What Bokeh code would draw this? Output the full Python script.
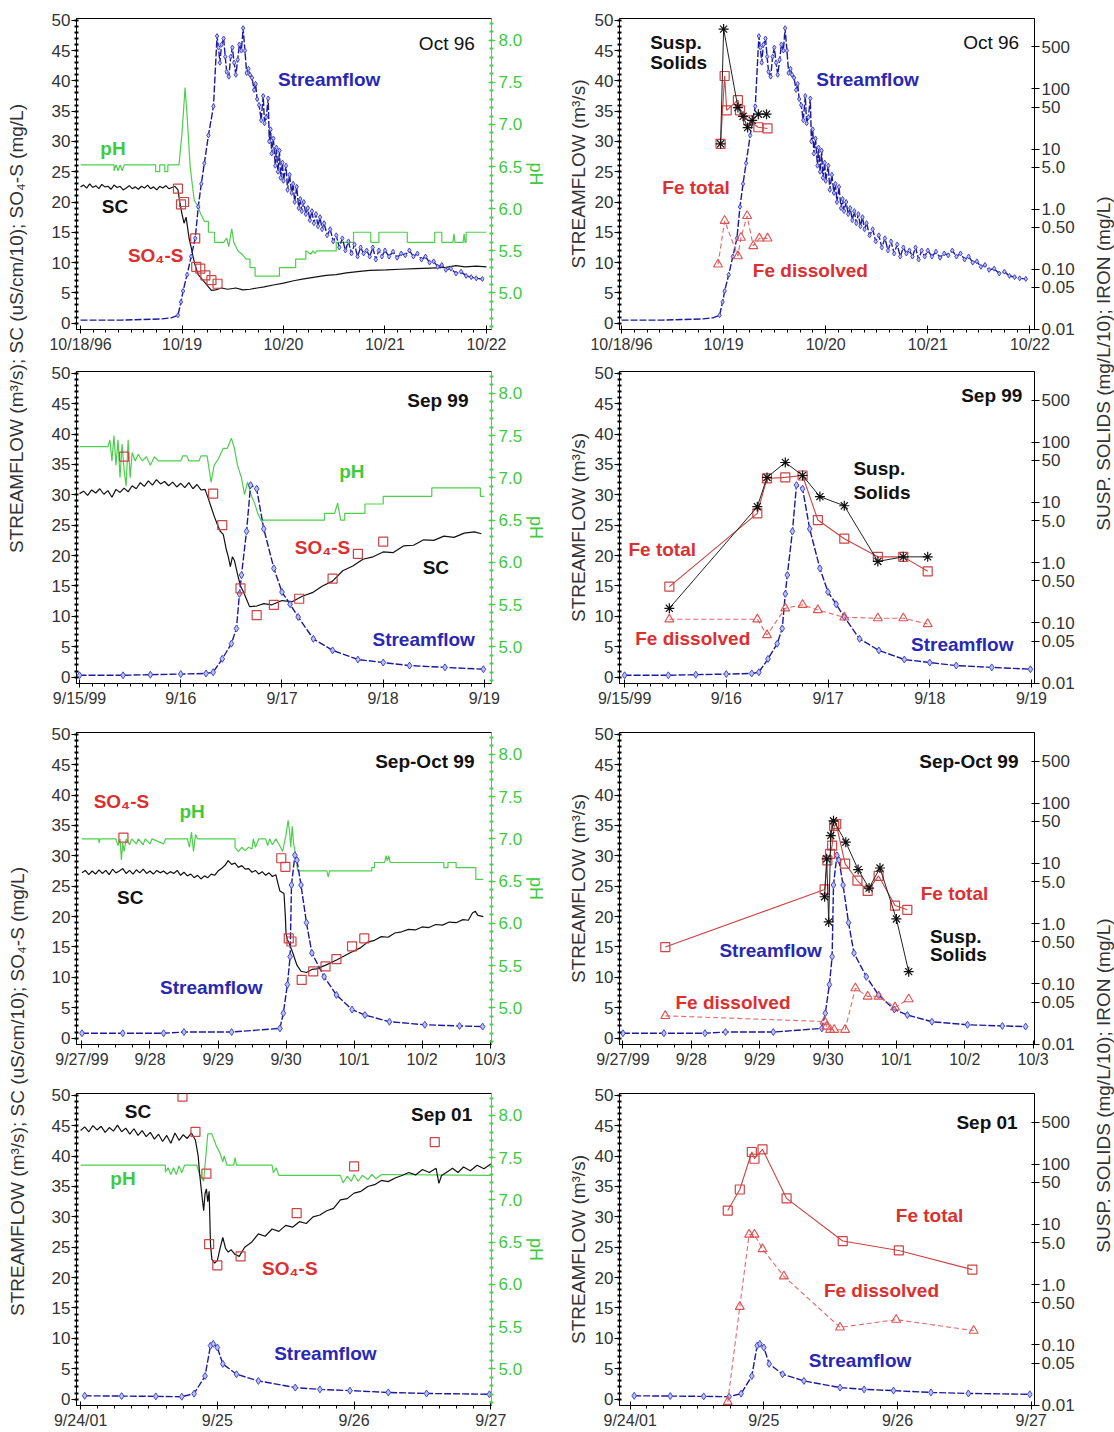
import numpy as np
from bokeh.plotting import figure
from bokeh.models import Range1d, LinearAxis, LogAxis, LogScale, FixedTicker, NumeralTickFormatter
from bokeh.layouts import row, column
from bokeh.core.properties import value
from bokeh.embed import file_html
from bokeh.resources import INLINE

# ---------------- tick labels ----------------
OCT96_DAYS = ["10/18/96", "10/19", "10/20", "10/21", "10/22"]
SEP99_DAYS = ["9/15/99", "9/16", "9/17", "9/18", "9/19"]
SEPOCT99_DAYS = ["9/27/99", "9/28", "9/29", "9/30", "10/1", "10/2", "10/3"]
SEP01_DAYS = ["9/24/01", "9/25", "9/26", "9/27"]
LOG_TICKS = [0.01, 0.05, 0.1, 0.5, 1, 5, 10, 50, 100, 500]
LOG_LABELS = ["0.01", "0.05", "0.10", "0.50", "1.0", "5.0", "10", "50", "100", "500"]
PH_TICKS = [5.0, 5.5, 6.0, 6.5, 7.0, 7.5, 8.0]

# ---------------- Oct 96 (days since 10/18/96) ----------------
OCT96_FLOW = [(0.00,0.5),(0.20,0.5),(0.40,0.5),(0.60,0.6),(0.80,0.7),(0.90,0.9),(0.96,1.3),(0.99,3.5),(1.01,5.3),
 (1.05,8.0),(1.09,11.0),(1.13,14.0),(1.16,19.2),(1.19,23.0),(1.22,26.4),(1.26,31.0),(1.31,35.8),(1.345,47.4),
 (1.36,45.5),(1.373,43.0),(1.39,46.0),(1.41,47.0),(1.426,44.0),(1.44,41.5),(1.461,40.7),(1.48,44.0),(1.496,45.5),
 (1.514,43.0),(1.53,41.0),(1.549,43.5),(1.565,46.0),(1.585,45.0),(1.602,48.7),(1.62,45.0),(1.637,41.3),(1.655,42.0),
 (1.67,41.0),(1.69,40.5),(1.71,38.5),(1.725,39.5),(1.74,37.0),(1.76,36.0),(1.78,33.5),(1.80,37.5),(1.813,33.0),
 (1.83,34.0),(1.849,37.1),(1.86,30.0),(1.873,32.0),(1.884,28.0),(1.90,30.5),(1.919,26.0),(1.93,29.0),(1.945,25.0),
 (1.96,28.5),(1.972,24.0),(1.99,26.5),(2.00,23.5),(2.025,26.0),(2.04,22.0),(2.06,24.5),(2.08,21.5),(2.095,23.0),
 (2.11,20.0),(2.13,22.5),(2.15,19.0),(2.165,20.5),(2.18,18.5),(2.20,20.0),(2.22,18.0),(2.24,19.0),(2.26,17.0),
 (2.28,18.5),(2.30,16.5),(2.32,18.0),(2.34,16.0),(2.36,17.5),(2.38,15.5),(2.40,16.5),(2.43,14.5),(2.46,15.5),
 (2.49,13.5),(2.52,14.5),(2.55,12.5),(2.58,14.0),(2.61,12.0),(2.64,13.5),(2.67,11.5),(2.70,13.0),(2.73,11.0),
 (2.76,12.5),(2.79,11.5),(2.82,12.0),(2.85,11.0),(2.88,12.5),(2.91,10.5),(2.94,12.0),(2.97,11.0),(3.00,12.0),
 (3.04,11.0),(3.08,11.8),(3.12,10.8),(3.16,11.5),(3.20,11.2),(3.24,12.0),(3.28,11.0),(3.32,11.5),(3.36,10.5),
 (3.40,11.0),(3.44,10.0),(3.48,10.2),(3.52,9.3),(3.56,9.6),(3.60,8.8),(3.65,9.0),(3.70,8.2),(3.75,8.5),(3.80,7.8),
 (3.85,7.6),(3.90,7.4),(3.96,7.3)]
OCT96_SC = [(0.00,22.5),(0.03,22.8),(0.06,22.3),(0.09,23.0),(0.12,22.4),(0.15,22.7),(0.18,22.2),(0.21,22.9),(0.24,22.5),
 (0.27,22.6),(0.30,22.1),(0.33,22.8),(0.36,22.4),(0.39,22.6),(0.42,22.0),(0.45,22.3),(0.48,22.7),(0.51,22.2),
 (0.54,22.5),(0.57,22.1),(0.60,22.6),(0.63,22.3),(0.66,22.8),(0.69,22.2),(0.72,22.5),(0.75,22.0),(0.78,22.6),
 (0.81,22.3),(0.84,22.7),(0.87,22.2),(0.90,22.4),(0.93,22.6),(0.96,22.0),(0.98,19.8),(1.00,18.0),(1.02,16.5),
 (1.04,17.5),(1.07,14.0),(1.09,12.5),(1.11,10.9),(1.13,9.5),(1.16,8.0),(1.18,7.6),(1.22,6.8),(1.26,6.0),(1.29,5.4),
 (1.33,5.5),(1.39,5.8),(1.45,5.6),(1.53,5.8),(1.60,5.5),(1.67,5.6),(1.74,5.8),(1.81,6.0),(1.90,6.3),(2.00,6.6),
 (2.10,7.0),(2.20,7.3),(2.31,7.6),(2.42,7.9),(2.52,8.0),(2.62,8.3),(2.73,8.5),(2.85,8.7),(3.01,8.8),(3.15,8.9),
 (3.30,9.0),(3.45,9.1),(3.60,9.2),(3.70,9.5),(3.79,9.3),(3.90,9.4),(4.00,9.3)]
OCT96_PH = [(0.00,6.52),(0.33,6.52),(0.33,6.45),(0.35,6.52),(0.37,6.45),(0.39,6.52),(0.41,6.45),(0.43,6.52),
 (0.74,6.52),(0.74,6.44),(0.78,6.44),(0.78,6.52),(0.83,6.52),(0.83,6.44),(0.86,6.44),(0.86,6.52),(0.97,6.52),
 (1.00,6.90),(1.03,7.44),(1.05,7.10),(1.08,6.50),(1.12,6.10),(1.16,6.02),(1.18,5.95),(1.22,5.85),(1.26,5.85),
 (1.26,5.72),(1.32,5.72),(1.32,5.60),(1.41,5.60),(1.44,5.65),(1.46,5.55),(1.49,5.76),(1.51,5.60),(1.55,5.50),
 (1.60,5.45),(1.63,5.40),(1.67,5.40),(1.67,5.30),(1.72,5.30),(1.72,5.20),(1.96,5.20),(1.96,5.30),(2.12,5.30),
 (2.12,5.40),(2.22,5.40),(2.22,5.50),(2.27,5.46),(2.29,5.50),(2.31,5.47),(2.33,5.50),(2.52,5.50),(2.52,5.60),
 (2.69,5.60),(2.69,5.72),(2.86,5.72),(2.86,5.60),(2.94,5.60),(2.94,5.72),(3.22,5.72),(3.22,5.60),(3.49,5.60),
 (3.49,5.72),(3.56,5.72),(3.56,5.60),(3.67,5.60),(3.68,5.70),(3.69,5.60),(3.77,5.60),(3.78,5.70),(3.79,5.60),
 (3.80,5.60),(3.80,5.72),(4.00,5.72)]
OCT96_SO4 = [(0.96,22.2),(0.99,19.6),(1.02,20.0),(1.13,14.0),(1.14,9.3),(1.18,9.0),(1.23,7.9),(1.29,7.1),(1.35,6.5)]
OCT96_SUSP = [(0.97,12.2),(1.00,990),(1.14,49),(1.19,35),(1.235,22.7),(1.28,30),(1.34,38),(1.42,38)]
OCT96_FE_TOTAL = [(0.97,12.2),(1.01,164),(1.03,44),(1.14,65),(1.16,44),(1.24,30),(1.34,23),(1.43,22)]
OCT96_FE_DISS = [(0.945,0.12),(1.01,0.64),(1.14,0.165),(1.17,0.335),(1.23,0.77),(1.29,0.243),(1.35,0.326),(1.43,0.326)]

# ---------------- Sep 99 (days since 9/15/99) ----------------
SEP99_FLOW = [(0.00,0.3),(0.43,0.3),(0.70,0.4),(1.00,0.5),(1.25,0.6),(1.32,0.8),(1.41,3.0),(1.50,5.5),(1.55,8.0),
 (1.58,13.7),(1.60,16.8),(1.65,24.0),(1.69,31.6),(1.75,31.0),(1.82,24.4),(1.92,17.9),(2.00,14.0),(2.08,12.0),
 (2.16,9.9),(2.31,6.3),(2.50,4.4),(2.75,2.9),(3.00,2.4),(3.26,1.9),(3.61,1.6),(3.99,1.3)]
SEP99_SC = [(0.00,30.2),(0.04,30.6),(0.08,29.9),(0.12,30.8),(0.16,30.3),(0.20,31.0),(0.24,30.1),(0.28,30.7),(0.32,29.6),
 (0.36,30.9),(0.40,30.4),(0.44,31.1),(0.48,30.5),(0.52,31.5),(0.56,31.0),(0.60,32.0),(0.64,31.4),(0.68,32.3),
 (0.72,31.6),(0.76,32.5),(0.80,31.8),(0.84,32.2),(0.88,31.5),(0.92,32.1),(0.96,31.3),(1.00,31.9),(1.04,31.2),
 (1.08,32.0),(1.12,31.0),(1.16,31.7),(1.20,30.8),(1.24,30.9),(1.27,29.5),(1.30,28.0),(1.33,26.5),(1.36,25.2),
 (1.39,24.0),(1.42,23.5),(1.45,21.0),(1.47,19.8),(1.49,18.2),(1.51,19.8),(1.53,19.2),(1.56,17.0),(1.59,15.0),
 (1.62,14.0),(1.65,12.8),(1.68,11.6),(1.75,11.7),(1.82,12.1),(1.90,11.9),(2.00,12.6),(2.10,12.4),(2.20,13.3),
 (2.30,13.9),(2.40,15.0),(2.50,15.8),(2.60,17.5),(2.70,18.3),(2.80,19.4),(2.90,19.8),(3.00,20.6),(3.10,20.5),
 (3.20,21.6),(3.30,21.7),(3.40,22.6),(3.50,22.5),(3.60,23.2),(3.70,23.0),(3.80,23.7),(3.90,23.9),(3.97,23.6)]
SEP99_PH = [(0.00,7.37),(0.28,7.37),(0.30,7.45),(0.32,7.20),(0.34,7.50),(0.36,7.15),(0.38,7.45),(0.40,7.00),
 (0.42,7.40),(0.44,7.10),(0.46,6.90),(0.48,7.45),(0.50,7.00),(0.52,7.30),(0.55,7.20),(0.58,7.28),(0.62,7.20),
 (0.66,7.25),(0.70,7.15),(0.74,7.25),(0.78,7.20),(1.00,7.20),(1.02,7.26),(1.06,7.26),(1.08,7.20),(1.18,7.20),
 (1.20,7.26),(1.26,7.26),(1.30,6.95),(1.33,7.15),(1.37,7.22),(1.42,7.35),(1.46,7.35),(1.50,7.47),(1.53,7.35),
 (1.56,7.15),(1.60,7.00),(1.63,6.80),(1.66,6.95),(1.70,6.78),(1.73,6.70),(1.76,6.58),(1.80,6.48),(1.82,6.50),
 (2.42,6.50),(2.42,6.58),(2.52,6.58),(2.55,6.70),(2.58,6.50),(2.62,6.50),(2.62,6.58),(2.82,6.58),(2.82,6.69),
 (3.00,6.69),(3.00,6.78),(3.48,6.78),(3.48,6.88),(3.96,6.88),(3.96,6.78),(4.00,6.78)]
SEP99_SO4 = [(0.44,36.3),(1.32,30.2),(1.41,25.0),(1.59,14.6),(1.75,10.2),(1.92,11.9),(2.17,12.9),(2.50,16.2),(2.75,20.3),(3.00,22.3)]
SEP99_SUSP = [(0.44,0.175),(1.305,8.5),(1.40,26),(1.58,46),(1.75,28),(1.92,12.5),(2.16,8.8),(2.49,1.05),(2.74,1.25),(2.98,1.25)]
SEP99_FE_TOTAL = [(0.44,0.40),(1.305,6.6),(1.40,25),(1.58,26),(1.75,28),(1.90,5.1),(2.16,2.5),(2.49,1.25),(2.74,1.25),(2.98,0.72)]
SEP99_FE_DISS = [(0.44,0.115),(1.305,0.115),(1.40,0.063),(1.58,0.175),(1.75,0.20),(1.90,0.164),(2.16,0.124),(2.49,0.12),(2.74,0.12),(2.98,0.096)]

# ---------------- Sep-Oct 99 (days since 9/27/99) ----------------
SEPOCT99_FLOW = [(0.00,0.8),(0.60,0.8),(1.20,0.8),(1.50,1.0),(2.20,1.0),(2.91,1.6),(2.96,4.1),(3.02,8.8),(3.06,13.4),
 (3.08,25.2),(3.13,30.1),(3.16,29.3),(3.22,25.2),(3.30,19.0),(3.38,14.0),(3.56,10.1),(3.74,7.1),(3.97,4.7),
 (4.16,3.8),(4.52,2.7),(5.04,2.2),(5.55,2.0),(5.89,1.9)]
SEPOCT99_SC = [(0.00,27.2),(0.05,27.6),(0.10,26.9),(0.15,27.5),(0.20,27.0),(0.25,27.7),(0.30,27.1),(0.35,27.6),(0.40,26.9),
 (0.45,27.8),(0.50,27.2),(0.55,27.5),(0.60,27.9),(0.65,27.1),(0.70,27.6),(0.75,27.0),(0.80,27.7),(0.85,27.2),
 (0.90,27.8),(0.95,27.1),(1.00,27.5),(1.05,27.0),(1.10,27.6),(1.15,27.2),(1.20,27.5),(1.25,27.0),(1.30,27.4),
 (1.35,27.1),(1.40,27.6),(1.45,26.8),(1.50,27.3),(1.55,26.7),(1.60,27.0),(1.65,26.4),(1.70,26.8),(1.75,26.2),
 (1.80,26.7),(1.85,26.4),(1.90,27.0),(1.95,26.8),(2.00,27.5),(2.05,27.9),(2.10,28.4),(2.15,29.2),(2.20,28.6),
 (2.25,28.8),(2.30,28.1),(2.35,28.4),(2.40,27.8),(2.45,27.9),(2.50,27.3),(2.55,27.6),(2.60,27.0),(2.65,27.4),
 (2.70,26.8),(2.75,27.2),(2.80,26.6),(2.85,26.9),(2.88,25.5),(2.91,24.2),(2.94,24.0),(2.97,23.8),(2.99,20.0),
 (3.00,17.2),(3.02,16.2),(3.05,15.5),(3.10,14.0),(3.16,12.0),(3.22,11.0),(3.30,10.8),(3.38,11.3),(3.45,11.4),
 (3.60,12.1),(3.75,12.9),(3.95,14.1),(4.10,14.9),(4.20,15.8),(4.30,16.1),(4.40,16.7),(4.50,16.6),(4.60,17.3),
 (4.70,17.5),(4.80,17.9),(4.90,17.8),(5.00,18.3),(5.10,18.2),(5.20,18.7),(5.30,18.6),(5.40,19.1),(5.50,19.0),
 (5.60,19.5),(5.68,19.4),(5.74,20.6),(5.78,20.9),(5.82,20.2),(5.90,20.0)]
SEPOCT99_PH = [(0.00,7.00),(0.25,7.00),(0.25,6.95),(0.27,7.00),(0.50,7.00),(0.53,6.92),(0.56,7.00),(0.58,6.75),
 (0.60,6.95),(0.62,6.85),(0.65,7.00),(0.70,6.93),(0.73,7.00),(0.80,6.94),(0.83,7.00),(0.90,6.93),(0.93,7.00),
 (1.00,6.94),(1.03,7.00),(1.20,6.94),(1.23,7.00),(1.55,7.00),(1.58,6.90),(1.61,7.08),(1.64,6.85),(1.67,7.05),
 (1.70,7.00),(2.25,7.00),(2.25,6.90),(2.30,6.85),(2.35,6.90),(2.40,6.86),(2.45,6.90),(2.50,6.88),(2.52,7.00),
 (2.55,6.90),(2.60,7.00),(2.70,7.00),(2.73,6.92),(2.76,7.00),(2.80,6.93),(2.85,7.00),(2.90,6.93),(2.95,6.85),
 (3.00,7.05),(3.03,7.22),(3.05,7.10),(3.07,6.90),(3.09,7.15),(3.11,6.95),(3.14,6.82),(3.17,6.62),(3.60,6.62),
 (3.62,6.55),(3.64,6.62),(4.26,6.62),(4.26,6.66),(4.30,6.66),(4.30,6.72),(4.45,6.72),(4.47,6.80),(4.49,6.74),
 (4.51,6.80),(4.53,6.72),(5.32,6.72),(5.32,6.66),(5.38,6.66),(5.38,6.72),(5.50,6.72),(5.50,6.66),(5.79,6.66),
 (5.79,6.52),(5.90,6.52)]
SEPOCT99_SO4 = [(0.61,33.0),(2.93,29.6),(2.99,28.2),(3.04,16.4),(3.08,15.9),(3.23,9.6),(3.40,11.0),(3.58,11.8),(3.74,13.0),(3.97,15.1),(4.15,16.4)]
SEPOCT99_SUSP = [(2.95,2.8),(2.98,11.9),(3.01,1.07),(3.04,29),(3.08,51),(3.26,22.5),(3.44,7.9),(3.60,3.9),(3.76,8.4),(4.00,1.2),(4.18,0.16)]
SEPOCT99_FE_TOTAL = [(0.62,0.41),(2.95,3.7),(2.99,11.2),(3.03,14.4),(3.06,19.8),(3.09,42),(3.12,45),(3.25,9.9),(3.43,5.2),(3.58,3.5),(3.74,6.2),(3.98,2.0),(4.16,1.7)]
SEPOCT99_FE_DISS = [(0.62,0.0296),(2.95,0.0238),(2.98,0.0197),(3.03,0.0174),(3.09,0.0174),(3.25,0.0174),(3.40,0.085),(3.58,0.062),(3.74,0.062),(3.98,0.041),(4.18,0.056)]

# ---------------- Sep 01 (days since 9/24/01) ----------------
SEP01_FLOW = [(0.03,0.55),(0.30,0.5),(0.55,0.45),(0.74,0.4),(0.83,0.9),(0.91,3.8),(0.95,8.8),(0.97,9.1),(1.00,8.5),
 (1.04,5.8),(1.14,4.1),(1.30,3.0),(1.57,1.9),(1.75,1.6),(1.97,1.4),(2.25,1.1),(2.53,0.93),(2.99,0.8)]
SEP01_SC = [(0.00,44.2),(0.03,44.8),(0.06,44.0),(0.09,45.0),(0.12,44.3),(0.15,44.9),(0.18,43.9),(0.21,44.7),(0.24,44.1),
 (0.27,45.1),(0.30,44.0),(0.33,44.6),(0.36,43.6),(0.39,44.5),(0.42,43.4),(0.45,44.2),(0.48,43.2),(0.51,43.9),
 (0.54,42.8),(0.57,43.6),(0.60,42.4),(0.63,43.4),(0.66,42.1),(0.69,43.8),(0.72,42.6),(0.75,43.5),(0.78,42.9),
 (0.81,43.8),(0.84,42.6),(0.86,40.0),(0.87,37.2),(0.885,34.0),(0.90,31.0),(0.91,33.8),(0.92,34.6),(0.93,32.5),
 (0.94,34.2),(0.95,25.5),(0.96,23.0),(0.98,22.4),(1.00,22.8),(1.02,24.8),(1.04,26.6),(1.06,24.8),(1.08,24.2),
 (1.10,24.6),(1.13,23.8),(1.16,23.5),(1.20,25.0),(1.25,25.8),(1.30,27.2),(1.35,26.8),(1.40,28.0),(1.45,27.6),
 (1.50,28.6),(1.55,28.3),(1.60,29.2),(1.65,28.9),(1.70,30.0),(1.75,30.3),(1.80,31.0),(1.85,31.4),(1.90,32.8),
 (1.95,33.0),(2.00,33.9),(2.05,34.2),(2.10,35.0),(2.15,35.3),(2.20,36.0),(2.25,35.8),(2.30,36.4),(2.35,36.8),
 (2.40,37.3),(2.45,36.9),(2.50,37.8),(2.55,37.3),(2.60,38.0),(2.62,35.5),(2.64,36.8),(2.68,37.4),(2.72,38.0),
 (2.76,37.3),(2.80,38.2),(2.85,37.6),(2.90,38.5),(2.95,37.9),(3.00,38.7)]
SEP01_PH = [(0.00,7.41),(0.62,7.41),(0.62,7.33),(0.64,7.38),(0.66,7.30),(0.68,7.38),(0.70,7.30),(0.72,7.40),
 (0.74,7.32),(0.76,7.41),(0.85,7.41),(0.87,7.30),(0.90,7.22),(0.93,7.78),(0.96,7.78),(0.99,7.65),(1.02,7.55),
 (1.04,7.45),(1.05,7.52),(1.07,7.41),(1.12,7.41),(1.13,7.50),(1.14,7.41),(1.40,7.41),(1.41,7.32),(1.43,7.38),
 (1.45,7.29),(1.90,7.29),(1.92,7.20),(1.95,7.28),(1.98,7.22),(2.00,7.30),(2.03,7.22),(2.06,7.29),(2.10,7.24),
 (2.13,7.30),(2.16,7.25),(2.20,7.30),(3.00,7.29)]
SEP01_SO4 = [(0.745,49.8),(0.84,44.0),(0.92,37.1),(0.94,25.5),(1.00,22.0),(1.17,23.5),(1.58,30.6),(2.00,38.3),(2.59,42.3)]
SEP01_FE_TOTAL = [(0.73,17),(0.82,38),(0.91,159),(0.93,123),(0.99,176),(1.17,27),(1.59,5.3),(2.01,3.7),(2.56,1.78)]
SEP01_FE_DISS = [(0.73,0.0114),(0.82,0.43),(0.89,6.8),(0.93,6.8),(0.99,3.9),(1.15,1.38),(1.57,0.196),(1.99,0.263),(2.57,0.173)]

# ---------------- colours / fonts ----------------
FONT = "Liberation Sans"
FLOW_LINE = "#1a1a9c"
FLOW_MARK = "#4646d0"
FLOW_FILL = "#b9c2f4"
BLUE_TXT = "#2828b4"
GREEN = "#4ccf4c"
GREEN_TXT = "#3fca3f"
RED = "#cc4444"
RED_TXT = "#dc3030"
BLACK = "#111111"
GREY = "#333333"
TICK_FS = "16px"
RTICK_FS = "17px"
AXLABEL_FS = "19px"
ANNOT_FS = "19px"


def split(pairs):
    return [a for a, _ in pairs], [b for _, b in pairs]


def style_common(p, days, minor_per_day):
    p.grid.visible = False
    p.outline_line_color = "black"
    p.outline_line_width = 1
    p.background_fill_color = "white"
    p.border_fill_color = "white"
    n = len(days) - 1
    xa = p.xaxis[0]
    xa.ticker = FixedTicker(ticks=list(range(n + 1)),
                            minor_ticks=[i / minor_per_day for i in range(n * minor_per_day + 1)])
    xa.major_label_overrides = {i: d for i, d in enumerate(days)}
    xa.major_tick_in = 4
    xa.major_tick_out = 4
    xa.minor_tick_in = 0
    xa.minor_tick_out = 3
    xa.major_label_standoff = 2
    xa.major_label_text_font = FONT
    xa.major_label_text_font_size = TICK_FS
    xa.major_label_text_color = GREY
    xa.axis_line_color = "black"
    ya = p.yaxis[0]
    ya.ticker = FixedTicker(ticks=list(range(0, 51, 5)), minor_ticks=list(range(0, 51)))
    ya.major_tick_in = 0
    ya.major_tick_out = 5
    ya.minor_tick_in = 2
    ya.minor_tick_out = 2
    ya.minor_tick_line_width = 2
    ya.major_label_standoff = 1
    ya.major_label_text_font = FONT
    ya.major_label_text_font_size = RTICK_FS
    ya.major_label_text_color = GREY
    ya.axis_label_text_font = FONT
    ya.axis_label_text_font_size = AXLABEL_FS
    ya.axis_label_text_font_style = "normal"
    ya.axis_label_text_color = GREY
    ya.axis_label_standoff = 3


def add_labels(p, labels):
    for txt, x, y, color, style, align in labels:
        p.text(x=[x], y=[y], text=[txt], text_font=value(FONT), text_font_size=ANNOT_FS,
               text_font_style=style, text_color=color, text_align=align, text_baseline="middle")


def draw_flow(p, flow, mark_from, msize):
    fx, fy = split(flow)
    p.line(fx, fy, line_color=FLOW_LINE, line_width=1.4, line_dash="7 2")
    mx = [x for x in fx if x >= mark_from]
    my = [y for x, y in zip(fx, fy) if x >= mark_from]
    p.scatter(mx, my, marker="diamond", size=msize, line_color=FLOW_MARK, fill_color=FLOW_FILL, line_width=1)


def left_panel(days, xr, minor_per_day, bt, fh, flow, mark_from, msize, sc, ph, so4, labels):
    p = figure(width=527, height=358, x_range=Range1d(*xr), y_range=Range1d(-1.05, 50.3),
               output_backend="svg", toolbar_location=None,
               min_border_left=46, min_border_right=66, min_border_top=bt,
               min_border_bottom=358 - bt - fh)
    style_common(p, days, minor_per_day)
    p.extra_y_ranges = {"ph": Range1d(4.565, 8.259)}
    ax = LinearAxis(y_range_name="ph", axis_label="pH",
                    ticker=FixedTicker(ticks=PH_TICKS, minor_ticks=[round(4.6 + 0.1 * i, 1) for i in range(37)]),
                    formatter=NumeralTickFormatter(format="0.0"))
    ax.axis_line_color = GREEN
    ax.major_tick_line_color = GREEN
    ax.minor_tick_line_color = GREEN
    ax.major_tick_in = 3
    ax.major_tick_out = 4
    ax.minor_tick_in = 2
    ax.minor_tick_out = 2
    ax.minor_tick_line_width = 2
    ax.major_label_text_color = GREEN_TXT
    ax.major_label_text_font = FONT
    ax.major_label_text_font_size = RTICK_FS
    ax.major_label_standoff = 3
    ax.axis_label_text_color = GREEN_TXT
    ax.axis_label_text_font = FONT
    ax.axis_label_text_font_size = "18px"
    ax.axis_label_text_font_style = "normal"
    ax.axis_label_standoff = 1
    p.add_layout(ax, "right")

    x, y = split(ph)
    p.line(x, y, y_range_name="ph", line_color=GREEN, line_width=1.2)
    x, y = split(sc)
    p.line(x, y, line_color=BLACK, line_width=1.2)
    draw_flow(p, flow, mark_from, msize)
    x, y = split(so4)
    p.scatter(x, y, marker="square", size=9, line_color=RED, fill_color=None, line_width=1.2)
    add_labels(p, labels)
    return p


def right_panel(days, xr, minor_per_day, bt, fh, flow, mark_from, msize, susp, fe_tot, fe_diss, labels):
    p = figure(width=533, height=358, x_range=Range1d(*xr), y_range=Range1d(-1.05, 50.3),
               output_backend="svg", toolbar_location=None,
               min_border_left=62, min_border_right=56, min_border_top=bt,
               min_border_bottom=358 - bt - fh)
    style_common(p, days, minor_per_day)
    p.yaxis[0].axis_label = "STREAMFLOW (m³/s)"
    p.extra_y_ranges = {"log": Range1d(0.0099, 1487)}
    p.extra_y_scales = {"log": LogScale()}
    ax = LogAxis(y_range_name="log", ticker=FixedTicker(ticks=LOG_TICKS))
    ax.major_label_overrides = dict(zip(LOG_TICKS, LOG_LABELS))
    ax.major_tick_in = 3
    ax.major_tick_out = 5
    ax.minor_tick_line_color = None
    ax.major_label_text_font = FONT
    ax.major_label_text_font_size = RTICK_FS
    ax.major_label_text_color = GREY
    ax.major_label_standoff = 2
    p.add_layout(ax, "right")

    draw_flow(p, flow, mark_from, msize)
    x, y = split(fe_diss)
    p.line(x, y, y_range_name="log", line_color="#e06a6a", line_width=1.1, line_dash="5 3")
    p.scatter(x, y, y_range_name="log", marker="triangle", size=9, line_color="#e05050",
              fill_color=None, line_width=1.1)
    x, y = split(fe_tot)
    p.line(x, y, y_range_name="log", line_color=RED, line_width=1.1)
    p.scatter(x, y, y_range_name="log", marker="square", size=9, line_color=RED,
              fill_color=None, line_width=1.2)
    if susp:
        x, y = split(susp)
        p.line(x, y, y_range_name="log", line_color="#222222", line_width=1.0)
        p.scatter(x, y, y_range_name="log", marker="asterisk", size=10, line_color="#111111", line_width=1.2)
    add_labels(p, labels)
    return p


def strip(width, text, xc, yc_from_top, height=716):
    p = figure(width=width, height=height, x_range=Range1d(0, width), y_range=Range1d(0, height),
               x_axis_type=None, y_axis_type=None, output_backend="svg", toolbar_location=None,
               min_border=0, min_border_left=0, min_border_right=0, min_border_top=0, min_border_bottom=0)
    p.outline_line_color = None
    p.background_fill_color = "white"
    p.border_fill_color = "white"
    p.text(x=[xc], y=[height - yc_from_top], text=[text], angle=np.pi / 2, text_font=value(FONT),
           text_font_size=AXLABEL_FS, text_color=GREY, text_align="center", text_baseline="middle")
    return p


SO4 = "SO\u2084-S"

p1 = left_panel(OCT96_DAYS, (-0.04, 4.05), 8, 18, 311, OCT96_FLOW, 0.95, 5, OCT96_SC, OCT96_PH, OCT96_SO4, [
    ("Oct 96", 3.61, 46.2, BLACK, "normal", "center"),
    ("Streamflow", 2.45, 40.2, BLUE_TXT, "bold", "center"),
    ("pH", 0.32, 28.9, GREEN_TXT, "bold", "center"),
    ("SC", 0.34, 19.2, BLACK, "bold", "center"),
    (SO4, 0.74, 11.2, RED_TXT, "bold", "center")])
p2 = right_panel(OCT96_DAYS, (-0.02, 4.045), 8, 18, 311, OCT96_FLOW, 0.95, 5, OCT96_SUSP, OCT96_FE_TOTAL, OCT96_FE_DISS, [
    ("Oct 96", 3.62, 46.4, BLACK, "normal", "center"),
    ("Susp.", 0.28, 46.4, BLACK, "bold", "left"),
    ("Solids", 0.28, 43.0, BLACK, "bold", "left"),
    ("Streamflow", 2.41, 40.3, BLUE_TXT, "bold", "center"),
    ("Fe total", 0.73, 22.4, RED_TXT, "bold", "center"),
    ("Fe dissolved", 1.85, 8.7, RED_TXT, "bold", "center")])
p3 = left_panel(SEP99_DAYS, (-0.03, 4.07), 8, 13, 312, SEP99_FLOW, 0.0, 7, SEP99_SC, SEP99_PH, SEP99_SO4, [
    ("Sep 99", 3.54, 45.6, BLACK, "bold", "center"),
    ("pH", 2.69, 33.8, GREEN_TXT, "bold", "center"),
    (SO4, 2.40, 21.3, RED_TXT, "bold", "center"),
    ("SC", 3.52, 18.0, BLACK, "bold", "center"),
    ("Streamflow", 3.40, 6.2, BLUE_TXT, "bold", "center")])
p4 = right_panel(SEP99_DAYS, (-0.05, 4.03), 8, 13, 312, SEP99_FLOW, 0.0, 7, SEP99_SUSP, SEP99_FE_TOTAL, SEP99_FE_DISS, [
    ("Sep 99", 3.61, 46.4, BLACK, "bold", "center"),
    ("Susp.", 2.25, 34.3, BLACK, "bold", "left"),
    ("Solids", 2.25, 30.4, BLACK, "bold", "left"),
    ("Fe total", 0.37, 21.0, RED_TXT, "bold", "center"),
    ("Fe dissolved", 0.67, 6.4, RED_TXT, "bold", "center"),
    ("Streamflow", 3.32, 5.3, BLUE_TXT, "bold", "center")])
p5 = left_panel(SEPOCT99_DAYS, (-0.08, 6.02), 4, 16, 312, SEPOCT99_FLOW, 0.0, 7, SEPOCT99_SC, SEPOCT99_PH, SEPOCT99_SO4, [
    ("Sep-Oct 99", 5.04, 45.5, BLACK, "bold", "center"),
    (SO4, 0.58, 39.0, RED_TXT, "bold", "center"),
    ("pH", 1.62, 37.3, GREEN_TXT, "bold", "center"),
    ("SC", 0.71, 23.1, BLACK, "bold", "center"),
    ("Streamflow", 1.90, 8.3, BLUE_TXT, "bold", "center")])
p6 = right_panel(SEPOCT99_DAYS, (-0.05, 6.02), 4, 16, 312, SEPOCT99_FLOW, 0.0, 7, SEPOCT99_SUSP, SEPOCT99_FE_TOTAL, SEPOCT99_FE_DISS, [
    ("Sep-Oct 99", 5.06, 45.6, BLACK, "bold", "center"),
    ("Fe total", 4.85, 23.8, RED_TXT, "bold", "center"),
    ("Susp.", 4.49, 16.7, BLACK, "bold", "left"),
    ("Solids", 4.49, 13.7, BLACK, "bold", "left"),
    ("Streamflow", 2.16, 14.4, BLUE_TXT, "bold", "center"),
    ("Fe dissolved", 1.61, 5.8, RED_TXT, "bold", "center")])
p7 = left_panel(SEP01_DAYS, (-0.03, 3.005), 8, 19, 312, SEP01_FLOW, 0.0, 7, SEP01_SC, SEP01_PH, SEP01_SO4, [
    ("Sep 01", 2.64, 46.9, BLACK, "bold", "center"),
    ("SC", 0.42, 47.3, BLACK, "bold", "center"),
    ("pH", 0.31, 36.3, GREEN_TXT, "bold", "center"),
    (SO4, 1.53, 21.5, RED_TXT, "bold", "center"),
    ("Streamflow", 1.79, 7.5, BLUE_TXT, "bold", "center")])
p8 = right_panel(SEP01_DAYS, (-0.08, 3.025), 8, 19, 312, SEP01_FLOW, 0.0, 7, None, SEP01_FE_TOTAL, SEP01_FE_DISS, [
    ("Sep 01", 2.67, 45.6, BLACK, "bold", "center"),
    ("Fe total", 2.24, 30.2, RED_TXT, "bold", "center"),
    ("Fe dissolved", 1.88, 17.9, RED_TXT, "bold", "center"),
    ("Streamflow", 1.72, 6.4, BLUE_TXT, "bold", "center")])

LEFT_LABEL = "STREAMFLOW (m³/s); SC (uS/cm/10); SO\u2084-S (mg/L)"
RIGHT_LABEL = "SUSP. SOLIDS (mg/L/10); IRON (mg/L)"

sl1 = strip(30, LEFT_LABEL, 16, 328)
sl2 = strip(30, LEFT_LABEL, 17, 375)
sr1 = strip(24, RIGHT_LABEL, 13, 363)
sr2 = strip(24, RIGHT_LABEL, 13, 369)

top = row(sl1, column(row(p1, p2), row(p3, p4)), sr1)
bottom = row(sl2, column(row(p5, p6), row(p7, p8)), sr2)
layout = column(top, bottom)

open("out.html", "w").write(file_html(layout, INLINE))
